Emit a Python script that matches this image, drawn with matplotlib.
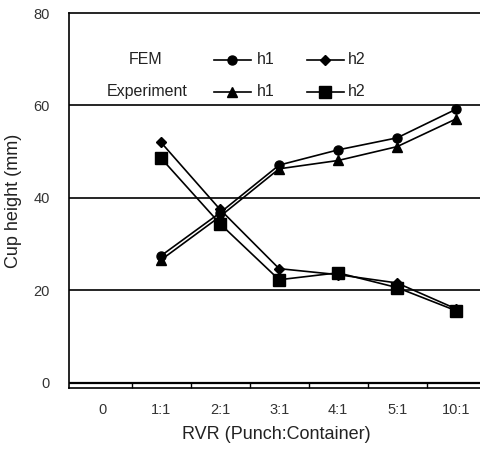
import matplotlib
matplotlib.use("Agg")
import matplotlib.pyplot as plt
from matplotlib.lines import Line2D

plt.rcParams['font.family'] = ['Liberation Sans', 'DejaVu Sans']

# data
ratios = ['0', '1:1', '2:1', '3:1', '4:1', '5:1', '10:1']
xpos = [1, 2, 3, 4, 5, 6]
fem_h1 = [27.5, 36.8, 47.1, 50.4, 53.0, 59.2]
fem_h2 = [52.0, 37.5, 24.7, 23.4, 21.6, 16.0]
exp_h1 = [26.6, 36.0, 46.3, 48.1, 51.1, 57.1]
exp_h2 = [48.6, 34.4, 22.3, 23.8, 20.6, 15.6]

fig = plt.figure(figsize=(4.81, 4.5), dpi=100)
ax = fig.add_axes([0.1435, 0.138, 0.86, 0.833])

for v in [20, 40, 60]:
    ax.axhline(v, color='black', lw=1.2, zorder=1)
ax.axhline(0, color='black', lw=1.6, zorder=1)

ax.plot(xpos, fem_h1, '-o', color='black', ms=6.5, lw=1.2, zorder=3)
ax.plot(xpos, fem_h2, '-D', color='black', ms=5, lw=1.2, zorder=3)
ax.plot(xpos, exp_h1, '-^', color='black', ms=7, lw=1.2, zorder=3)
ax.plot(xpos, exp_h2, '-s', color='black', ms=8, lw=1.2, zorder=3)

ax.set_xlim(-0.56, 6.45)
ax.set_ylim(-1.1, 80)
ax.set_xticks(range(len(ratios)))
ax.set_xticklabels(ratios)
ax.set_xticks([0.5, 1.5, 2.5, 3.5, 4.5, 5.5], minor=True)
ax.tick_params(axis='x', which='major', length=0, pad=11, labelsize=10.5, labelcolor='#333333')
ax.tick_params(axis='x', which='minor', direction='in', length=4, width=1)
ax.set_yticks([0, 20, 40, 60, 80])
ax.tick_params(axis='y', length=0, pad=14, labelsize=10.5, labelcolor='#333333')

ax.spines['right'].set_visible(False)
for s in ['left', 'top', 'bottom']:
    ax.spines[s].set_linewidth(1.2)

ax.set_xlabel('RVR (Punch:Container)', fontsize=13, color='#222222', labelpad=6)
ax.set_ylabel('Cup height (mm)', fontsize=13, color='#222222', labelpad=8)

# legend drawn in axes coordinates
tr = ax.transAxes
ax.text(0.185, 0.875, 'FEM', transform=tr, ha='center', va='center', fontsize=11.5, color='#222222')
ax.text(0.19, 0.79, 'Experiment', transform=tr, ha='center', va='center', fontsize=11.5, color='#222222')
rows = [(0.875, 'o', 6.5, 'D', 5), (0.79, '^', 7, 's', 8)]
for y, m1, s1, m2, s2 in rows:
    ax.add_line(Line2D([0.35, 0.44], [y, y], transform=tr, color='black', lw=1.2))
    ax.add_line(Line2D([0.395], [y], transform=tr, marker=m1, ms=s1, color='black'))
    ax.text(0.455, y, 'h1', transform=tr, ha='left', va='center', fontsize=11.5, color='#222222')
    ax.add_line(Line2D([0.575, 0.665], [y, y], transform=tr, color='black', lw=1.2))
    ax.add_line(Line2D([0.62], [y], transform=tr, marker=m2, ms=s2, color='black'))
    ax.text(0.675, y, 'h2', transform=tr, ha='left', va='center', fontsize=11.5, color='#222222')

fig.savefig('out.png', dpi=100)
